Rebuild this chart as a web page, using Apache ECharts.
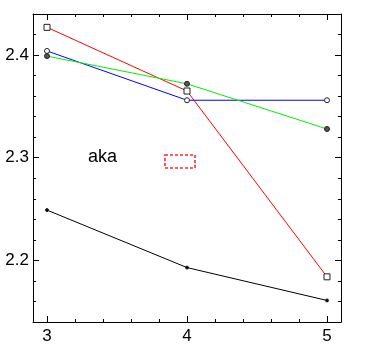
<!DOCTYPE html>
<html>
<head>
<meta charset="utf-8">
<script src="https://cdn.jsdelivr.net/npm/echarts@6/dist/echarts.min.js"></script>
<style>
  html, body { margin: 0; padding: 0; background: #fff; }
  #main { width: 365px; height: 346px; }
</style>
</head>
<body>
<div id="main"></div>
<script>
var xValues = [3, 4, 5];
var redValues = [2.427, 2.365, 2.184];
var blueValues = [2.404, 2.356, 2.356];
var greenValues = [2.399, 2.372, 2.328];
var blackValues = [2.249, 2.193, 2.161];

function pairs(ys) {
    var res = [];
    for (var i = 0; i < xValues.length; i++) {
        res.push([xValues[i], ys[i]]);
    }
    return res;
}

var myChart = echarts.init(document.getElementById('main'));

var axisFont = { color: '#000', fontSize: 17, fontFamily: 'Liberation Sans' };

function xAxis(pos, labels) {
    return {
        type: 'value', position: pos, min: 2.9, max: 5.1,
        minInterval: 1, maxInterval: 1, splitNumber: 2,
        axisLine: { show: true, onZero: false, lineStyle: { color: '#000', width: 1 } },
        axisTick: { show: true, inside: true, length: 6, lineStyle: { color: '#000' } },
        minorTick: { show: true, splitNumber: 5, length: 3, lineStyle: { color: '#000' } },
        axisLabel: Object.assign({ show: labels, showMinLabel: false, showMaxLabel: false, margin: 6 }, axisFont),
        splitLine: { show: false }
    };
}
function yAxis(pos, labels) {
    return {
        type: 'value', position: pos, min: 2.14, max: 2.44,
        minInterval: 0.1, maxInterval: 0.1, splitNumber: 3,
        axisLine: { show: true, onZero: false, lineStyle: { color: '#000', width: 1 } },
        axisTick: { show: true, inside: true, length: 6, lineStyle: { color: '#000' } },
        minorTick: { show: true, splitNumber: 5, length: 3, lineStyle: { color: '#000' } },
        axisLabel: Object.assign({ show: labels, showMinLabel: false, showMaxLabel: false, margin: 4 }, axisFont),
        splitLine: { show: false }
    };
}

function line(name, ys, color, symbol, size, fill) {
    return {
        name: name, type: 'line', data: pairs(ys),
        xAxisIndex: 0, yAxisIndex: 0,
        symbol: symbol, symbolSize: size, showAllSymbol: true,
        lineStyle: { color: color, width: 1 },
        itemStyle: { color: fill, borderColor: '#222', borderWidth: 1 },
        emphasis: { disabled: true },
        animation: false
    };
}

var option = {
    animation: false,
    grid: { left: 33, top: 14, right: 24, bottom: 24 },
    xAxis: [xAxis('bottom', true), xAxis('top', false)],
    yAxis: [yAxis('left', true), yAxis('right', false)],
    graphic: [
        {
            type: 'text', left: 88, top: 148, z: 100,
            style: { text: 'aka', fontSize: 18, fontFamily: 'Liberation Sans', fill: '#000' }
        },
        {
            // dashed box next to the label
            type: 'rect', z: 100, silent: true,
            shape: { x: 165, y: 155, width: 30, height: 13 },
            style: { stroke: '#ff2a2a', fill: 'transparent', lineWidth: 1.6, lineDash: [3, 2] }
        }
    ],
    series: [
        line('red', redValues, '#ff0000', 'rect', 6, '#fff'),
        line('blue', blueValues, '#0000ff', 'circle', 5, '#fff'),
        line('green', greenValues, '#00ee00', 'circle', 5, '#555'),
        line('black', blackValues, '#000000', 'circle', 3, '#000')
    ]
};

myChart.setOption(option);
</script>
</body>
</html>
